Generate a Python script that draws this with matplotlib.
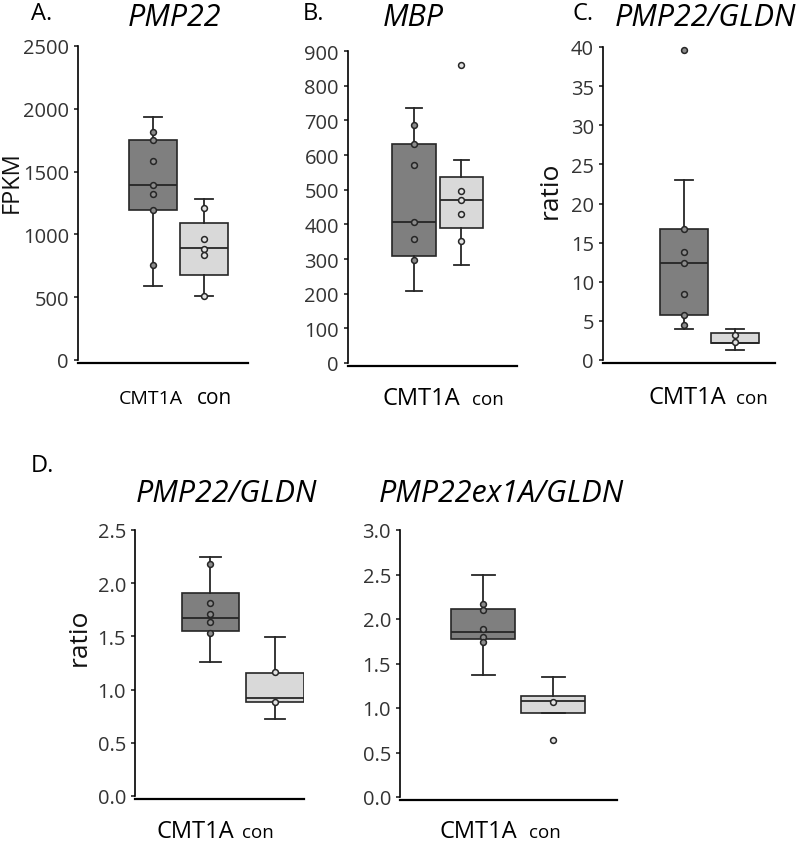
import matplotlib
matplotlib.use('Agg')
from matplotlib import pyplot as plt

plt.rcParams['font.family'] = ['Open Sans', 'DejaVu Sans']

W, H = 800, 845
groups = ['CMT1A', 'con']

# box statistics: (whislo, q1, med, q3, whishi)
pmp22_box = [(587, 1196, 1395, 1753, 1934), (507, 675, 890, 1089, 1283)]
pmp22_pts = [[1812, 1753, 1583, 1395, 1323, 1196, 757], [1214, 964, 885, 837, 513]]

mbp_box = [(209, 310, 408, 631, 737), (284, 389, 470, 537, 585)]
mbp_pts = [[686, 631, 571, 408, 357, 297], [860, 495, 470, 429, 351]]

ratio_box = [(3.96, 5.74, 12.38, 16.72, 22.98), (1.28, 2.17, 2.2, 3.41, 3.96)]
ratio_pts = [[39.6, 16.7, 13.8, 12.4, 8.4, 5.7, 4.5], [3.19, 2.30]]

qpcr_box = [(1.261, 1.553, 1.672, 1.907, 2.249), (0.721, 0.885, 0.922, 1.16, 1.49)]
qpcr_pts = [[2.177, 1.813, 1.71, 1.64, 1.534], [1.167, 0.885]]

ex1a_box = [(1.373, 1.777, 1.852, 2.114, 2.499), (0.946, 0.946, 1.081, 1.14, 1.343)]
ex1a_pts = [[2.17, 2.10, 1.889, 1.796, 1.74], [1.073, 0.635]]

face = ['#7f7f7f', '#d9d9d9']
pt_face = ['#8c8c8c', '#e2e2e2']
edge = '#262626'


def px_rect(left, top, right, bottom):
    return [left / W, 1 - bottom / H, (right - left) / W, (bottom - top) / H]


def panel(fig, rect, boxes, points, ymax, yticks, xlim, width, tick_fmt='{:g}'):
    ax = fig.add_axes(px_rect(*rect))
    stats = []
    for lo, q1, med, q3, hi in boxes:
        stats.append(dict(whislo=lo, q1=q1, med=med, q3=q3, whishi=hi, fliers=[]))
    bp = ax.bxp(stats, positions=[1, 2], widths=width, patch_artist=True,
                capwidths=width * 0.36, manage_ticks=False,
                boxprops=dict(edgecolor=edge, linewidth=1.2),
                whiskerprops=dict(color=edge, linewidth=1.3),
                capprops=dict(color=edge, linewidth=1.3),
                medianprops=dict(color=edge, linewidth=1.3))
    for patch, c in zip(bp['boxes'], face):
        patch.set_facecolor(c)
    for i, vals in enumerate(points):
        ax.plot([i + 1] * len(vals), vals, 'o', ms=4.2, mfc=pt_face[i],
                mec=edge, mew=1.1, zorder=5, clip_on=False)
    ax.set_xlim(*xlim)
    ax.set_ylim(0, ymax)
    ax.set_yticks(yticks)
    ax.set_yticklabels([tick_fmt.format(t) for t in yticks])
    ax.set_xticks([])
    ax.spines['top'].set_visible(False)
    ax.spines['right'].set_visible(False)
    ax.spines['left'].set_linewidth(1.2)
    ax.spines['bottom'].set_linewidth(1.6)
    ax.spines['bottom'].set_position(('outward', 2.5))
    ax.tick_params(axis='y', length=3, width=1.2, pad=3.5, labelsize=14.5,
                   labelcolor='#333333', color=edge)
    return ax


def ftext(x, y, s, **kw):
    # place text in pixel coordinates of the figure
    fig.text(x / W, 1 - y / H, s, **kw)


fig = plt.figure(figsize=(8, 8.45), dpi=100)

# A. PMP22
ax = panel(fig, (78, 47, 248, 361), pmp22_box, pmp22_pts, 2500,
           range(0, 2501, 500), (-0.47, 2.86), 0.94)
ax.set_ylabel('FPKM', fontsize=17, color='#111111')
ax.yaxis.set_label_coords(-0.32, 0.57)
ftext(31, 20, 'A.', fontsize=17)
ftext(174, 26, 'PMP22', fontsize=22, style='italic', ha='center')
ftext(151, 404, groups[0], fontsize=14, ha='center')
ftext(214, 404, groups[1], fontsize=15, ha='center')

# B. MBP
ax = panel(fig, (348, 52, 517, 364), mbp_box, mbp_pts, 900,
           range(0, 901, 100), (-0.39, 3.17), 0.92)
ftext(303, 20, 'B.', fontsize=17)
ftext(413, 26, 'MBP', fontsize=22, style='italic', ha='center')
ftext(421, 405, groups[0], fontsize=17, ha='center')
ftext(488, 405, groups[1], fontsize=13.5, ha='center')

# C. PMP22/GLDN ratio
ax = panel(fig, (603, 48, 775, 361), ratio_box, ratio_pts, 40,
           range(0, 41, 5), (-0.59, 2.78), 0.95)
ax.set_ylabel('ratio', fontsize=19, color='#111111')
ax.yaxis.set_label_coords(-0.235, 0.546)
ftext(573, 20, 'C.', fontsize=17)
ftext(705, 26, 'PMP22/GLDN', fontsize=22, style='italic', ha='center')
ftext(687, 404, groups[0], fontsize=17, ha='center')
ftext(752, 404, groups[1], fontsize=13.5, ha='center')

# D. qPCR ratios
ax = panel(fig, (135, 531, 304, 797), qpcr_box, qpcr_pts, 2.5,
           [0, 0.5, 1.0, 1.5, 2.0, 2.5], (-0.17, 2.45), 0.89, '{:.1f}')
ax.set_ylabel('ratio', fontsize=19, color='#111111')
ax.yaxis.set_label_coords(-0.256, 0.60)
ftext(31, 472, 'D.', fontsize=17)
ftext(226, 502, 'PMP22/GLDN', fontsize=22, style='italic', ha='center')
ftext(195, 838, groups[0], fontsize=17, ha='center')
ftext(258, 838, groups[1], fontsize=13.5, ha='center')

ax = panel(fig, (400, 531, 617, 798), ex1a_box, ex1a_pts, 3.0,
           [0, 0.5, 1.0, 1.5, 2.0, 2.5, 3.0], (-0.19, 2.91), 0.91, '{:.1f}')
ftext(501, 502, 'PMP22ex1A/GLDN', fontsize=22, style='italic', ha='center')
ftext(478, 838, groups[0], fontsize=17, ha='center')
ftext(545, 838, groups[1], fontsize=13.5, ha='center')

fig.savefig('out.png', dpi=100, facecolor='white')
